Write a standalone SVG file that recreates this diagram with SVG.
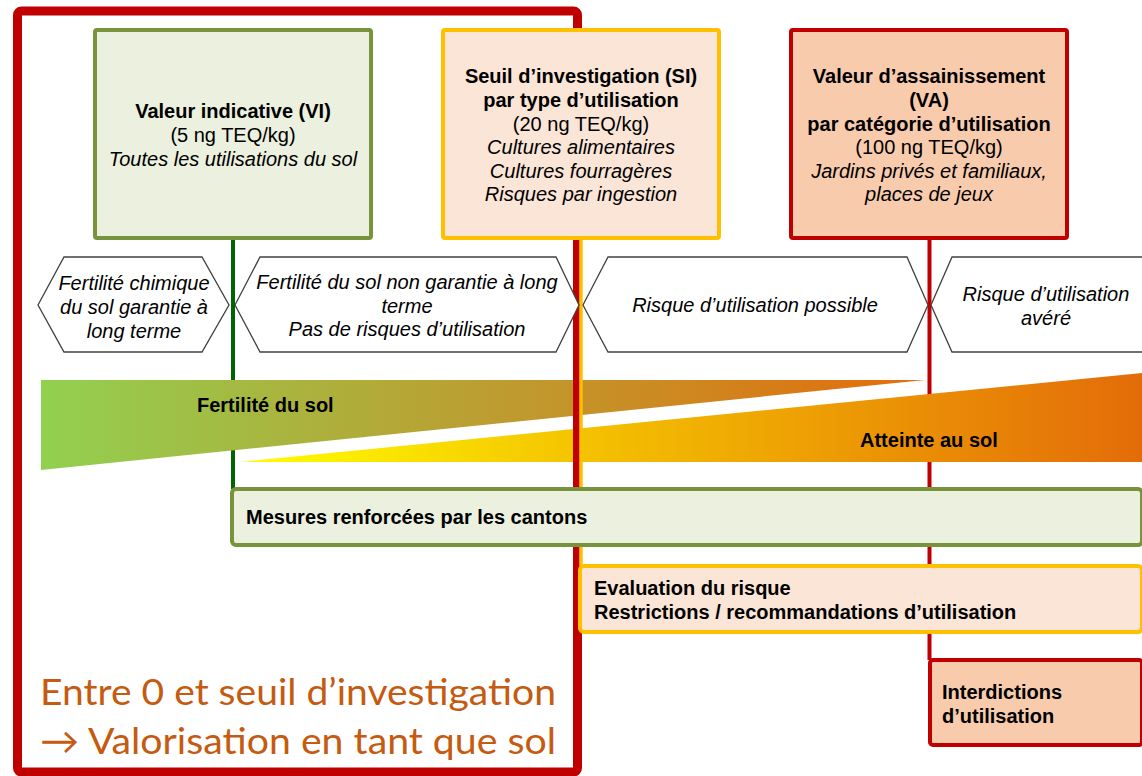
<svg xmlns="http://www.w3.org/2000/svg" width="1142" height="776" viewBox="0 0 1142 776">
<defs>
<linearGradient id="gFert" gradientUnits="userSpaceOnUse" x1="41" y1="0" x2="925" y2="0">
<stop offset="0" stop-color="#92D050"/>
<stop offset="0.55" stop-color="#C0992E"/>
<stop offset="1" stop-color="#E46C0A"/>
</linearGradient>
<linearGradient id="gAtt" gradientUnits="userSpaceOnUse" x1="240" y1="0" x2="1142" y2="0">
<stop offset="0" stop-color="#FFFF00"/>
<stop offset="0.38" stop-color="#F4C200"/>
<stop offset="1" stop-color="#E36C09"/>
</linearGradient>
<style>
text{font-family:"Liberation Sans",Arial,sans-serif;font-size:20px;fill:#000}
.b{font-weight:bold}
.i{font-style:italic}
.c{text-anchor:middle}
.hex{fill:#fff;stroke:#404040;stroke-width:1.3}
.vi{fill:#EBF1DE;stroke:#77933C;stroke-width:4}
.si{fill:#FBE5D6;stroke:#FFC000;stroke-width:4}
.va{fill:#F8CBAD;stroke:#C00000;stroke-width:4}
.big{font-family:Lato,"Open Sans",sans-serif;font-size:37px;fill:#C55A11}
</style>
</defs>
<rect width="1142" height="776" fill="#fff"/>

<g id="connectors">
<line x1="233" y1="239" x2="233" y2="489" stroke="#006400" stroke-width="4"/>
<line x1="929.5" y1="239" x2="929.5" y2="660" stroke="#C00000" stroke-width="4"/>
</g>

<g id="triangles">
<polygon points="41,380 925,380 41,470" fill="url(#gFert)"/>
<polygon points="240,462 1142,373 1142,462" fill="url(#gAtt)"/>
<text class="b" x="197" y="412">Fertilité du sol</text>
<text class="b" x="860" y="447">Atteinte au sol</text>
</g>

<g id="frame">
<rect x="17.5" y="11" width="560" height="761" rx="4" fill="none" stroke="#C00000" stroke-width="9"/>
<line x1="581" y1="239" x2="581" y2="566" stroke="#FFC000" stroke-width="3.5"/>
</g>

<g id="vi">
<rect class="vi" x="95" y="30" width="276" height="208" rx="2"/>
<text class="b c" x="233" y="118">Valeur indicative (VI)</text>
<text class="c" x="233" y="142">(5 ng TEQ/kg)</text>
<text class="i c" x="233" y="166">Toutes les utilisations du sol</text>
</g>

<g id="si">
<rect class="si" x="443" y="30" width="276" height="208" rx="2"/>
<text class="b c" x="581" y="83">Seuil d’investigation (SI)</text>
<text class="b c" x="581" y="107">par type d’utilisation</text>
<text class="c" x="581" y="131">(20 ng TEQ/kg)</text>
<text class="i c" x="581" y="154">Cultures alimentaires</text>
<text class="i c" x="581" y="178">Cultures fourragères</text>
<text class="i c" x="581" y="201">Risques par ingestion</text>
</g>

<g id="va">
<rect class="va" x="791" y="30" width="276" height="208" rx="2"/>
<text class="b c" x="929" y="83">Valeur d’assainissement</text>
<text class="b c" x="929" y="107">(VA)</text>
<text class="b c" x="929" y="131">par catégorie d’utilisation</text>
<text class="c" x="929" y="154">(100 ng TEQ/kg)</text>
<text class="i c" x="929" y="178">Jardins privés et familiaux,</text>
<text class="i c" x="929" y="201">places de jeux</text>
</g>

<g id="hex1">
<polygon class="hex" points="38,305 64,257 202,257 229,305 202,352 64,352"/>
<text class="i c" x="134" y="290">Fertilité chimique</text>
<text class="i c" x="134" y="314">du sol garantie à</text>
<text class="i c" x="134" y="338">long terme</text>
</g>

<g id="hex2">
<polygon class="hex" points="235,305 260,257 556,257 579,305 556,352 260,352"/>
<text class="i c" x="407" y="289">Fertilité du sol non garantie à long</text>
<text class="i c" x="407" y="313">terme</text>
<text class="i c" x="407" y="336">Pas de risques d’utilisation</text>
</g>

<g id="hex3">
<polygon class="hex" points="583,305 608,257 907,257 928,305 907,352 608,352"/>
<text class="i c" x="755" y="312">Risque d’utilisation possible</text>
</g>

<g id="hex4">
<polygon class="hex" points="931,305 952,257 1150,257 1150,352 952,352"/>
<text class="i c" x="1046" y="301">Risque d’utilisation</text>
<text class="i c" x="1046" y="325">avéré</text>
</g>

<g id="mesures">
<rect class="vi" x="232" y="489" width="910" height="56" rx="4"/>
<text class="b" x="246" y="524">Mesures renforcées par les cantons</text>
</g>

<g id="evaluation">
<rect class="si" x="580" y="566" width="562" height="66" rx="4"/>
<text class="b" x="594" y="595">Evaluation du risque</text>
<text class="b" x="594" y="619">Restrictions / recommandations d’utilisation</text>
</g>

<g id="interdictions">
<rect class="va" x="930" y="660" width="212" height="85" rx="3"/>
<text class="b" x="942" y="699">Interdictions</text>
<text class="b" x="942" y="723">d’utilisation</text>
</g>

<g id="note">
<text class="big" x="40" y="705" textLength="516" lengthAdjust="spacingAndGlyphs">Entre 0 et seuil d’investigation</text>
<text class="big" x="40" y="754" textLength="516" lengthAdjust="spacingAndGlyphs">→ Valorisation en tant que sol</text>
</g>
</svg>
